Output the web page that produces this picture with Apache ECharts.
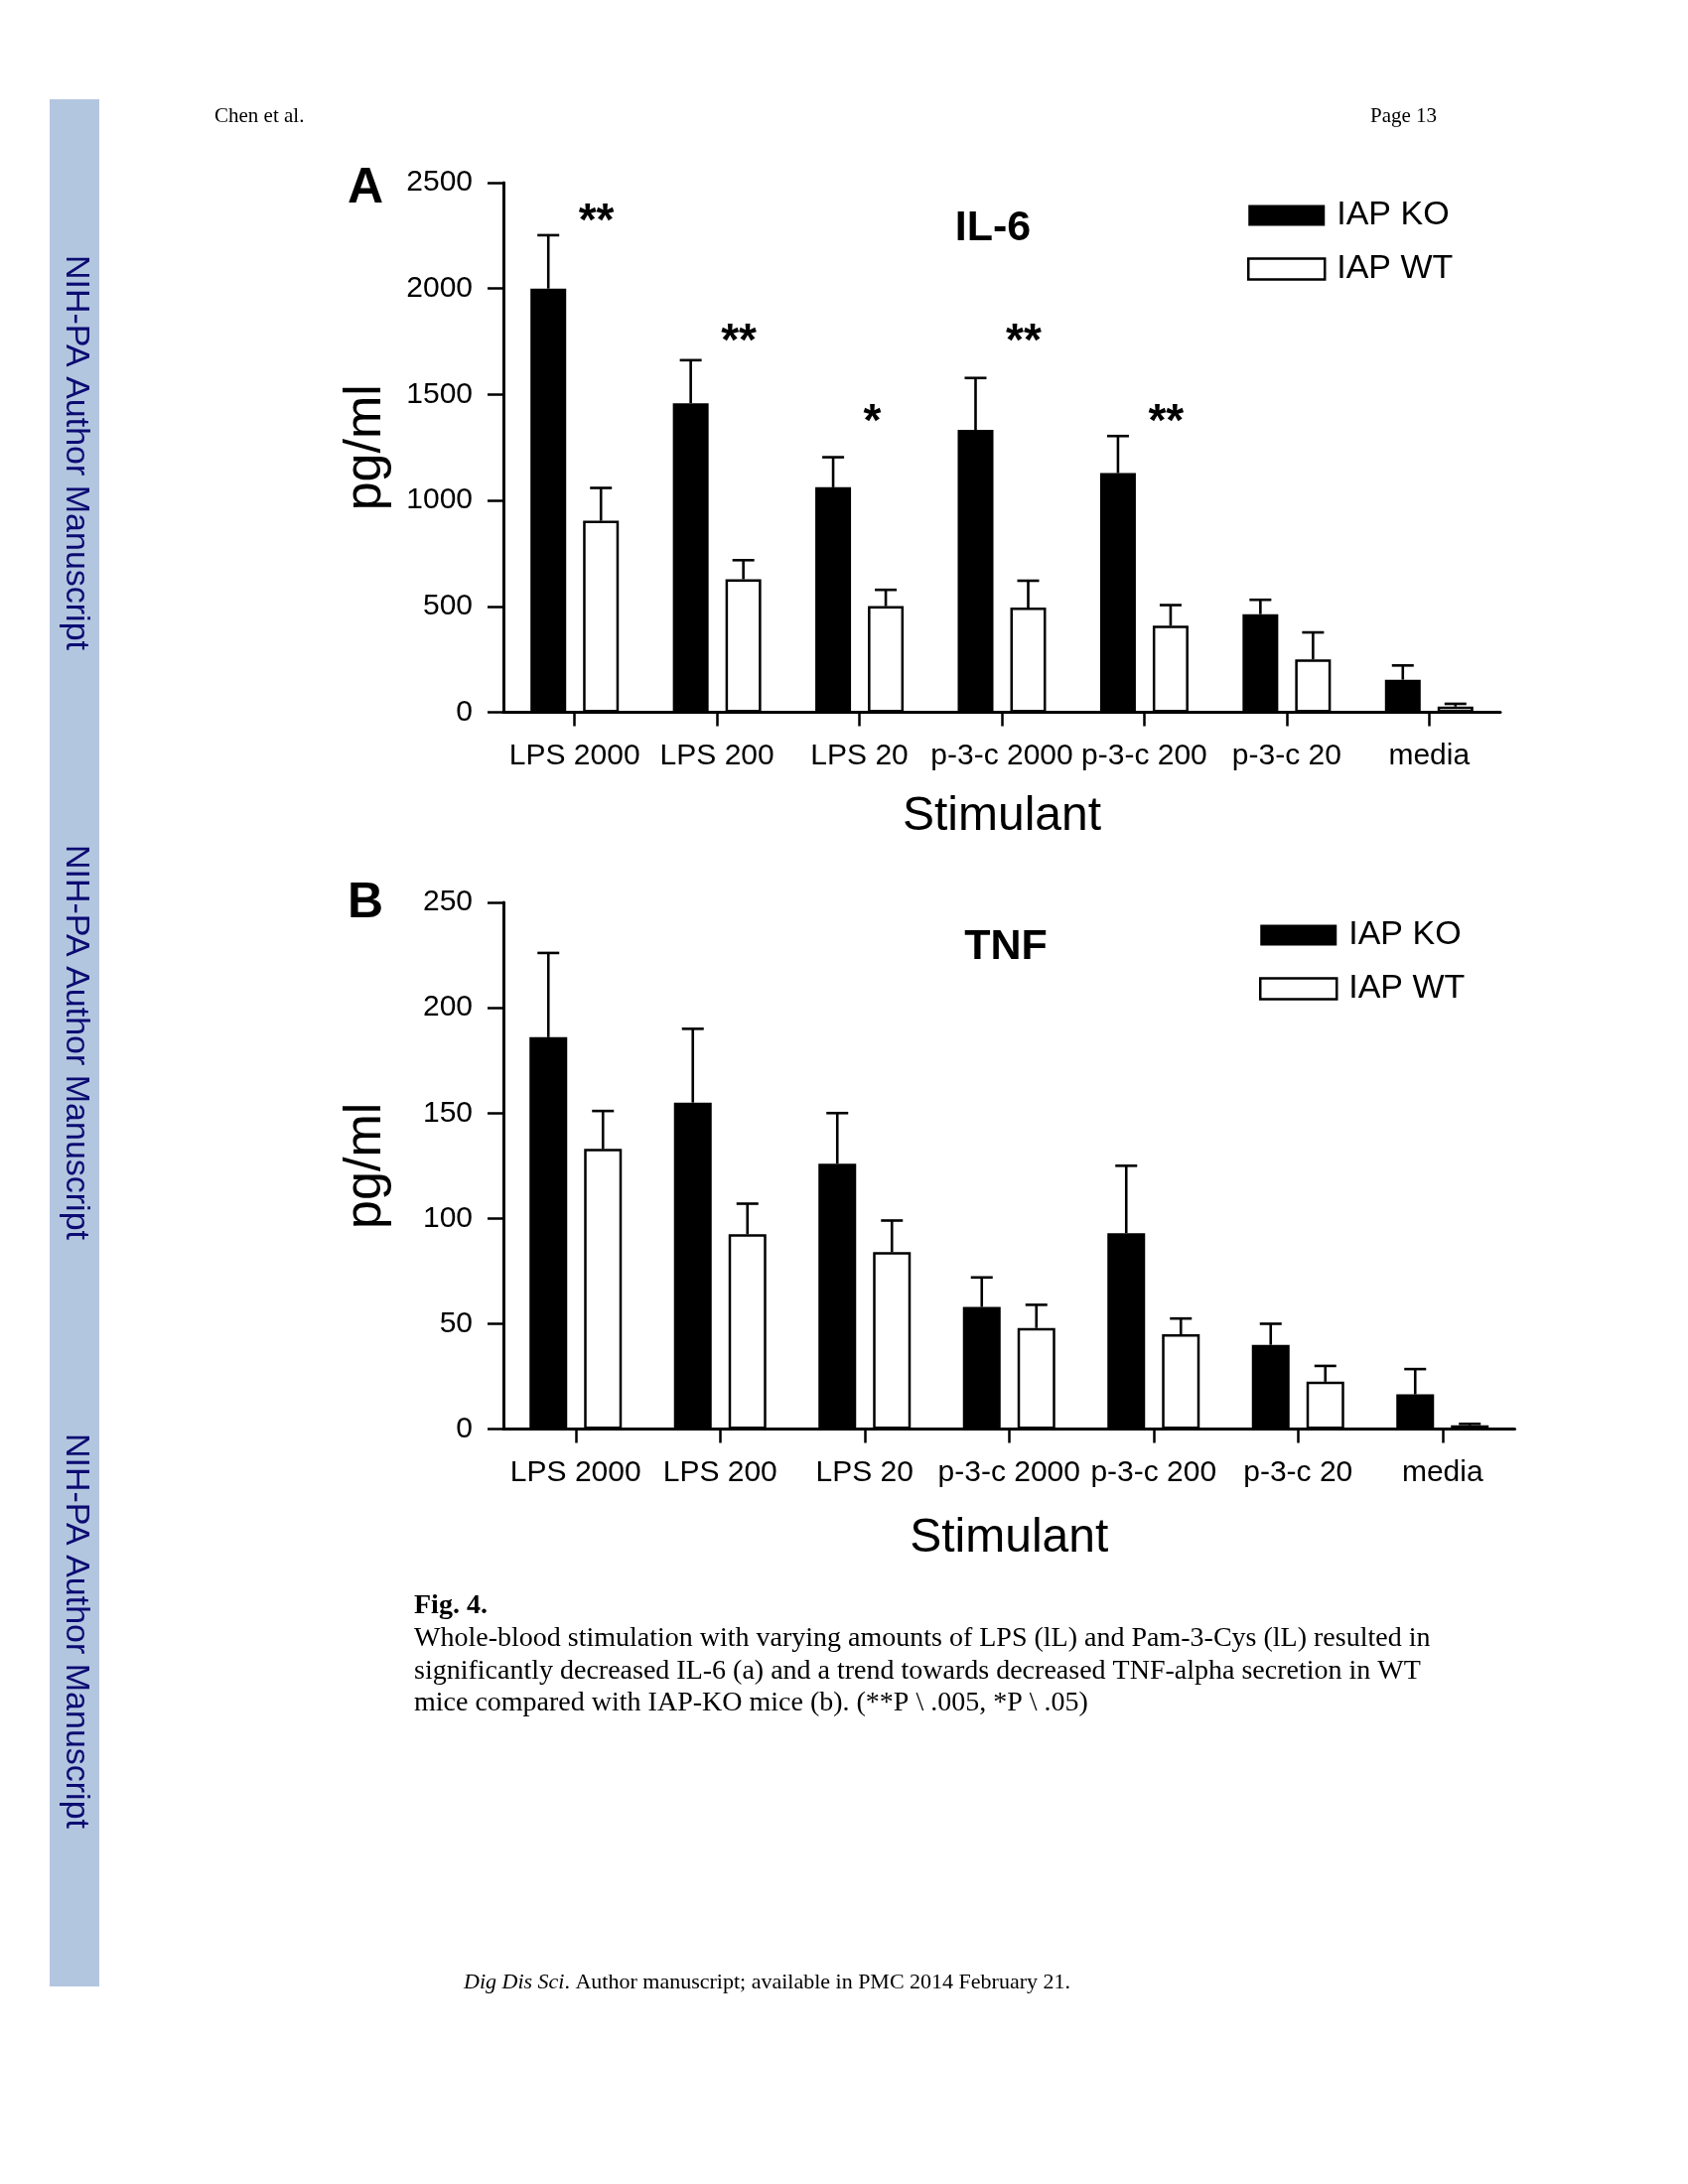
<!DOCTYPE html>
<html>
<head>
<meta charset="utf-8">
<script src="https://cdn.jsdelivr.net/npm/echarts@6/dist/echarts.min.js"></script>
<style>
html,body{margin:0;padding:0;background:#fff;}
#chart{width:1700px;height:2200px;}
</style>
</head>
<body>
<div id="chart"></div>
<script>
// ---------- DATA ----------
const categories = ['LPS 2000', 'LPS 200', 'LPS 20', 'p-3-c 2000', 'p-3-c 200', 'p-3-c 20', 'media'];
const seriesNames = ['IAP KO', 'IAP WT'];

// Panel A: IL-6 (pg/ml), mean and SEM
const il6KO    = [2000, 1459, 1062, 1333, 1129, 463, 154];
const il6KOerr = [252, 203, 142, 245, 175, 68, 67];
const il6WT    = [904, 628, 501, 494, 409, 250, 27];
const il6WTerr = [155, 90, 77, 127, 97, 127, 13];
const il6SigCats   = [0, 1, 2, 3, 4];
const il6SigLabels = ['**', '**', '*', '**', '**'];
const il6SigY      = [2360, 1790, 1410, 1790, 1410];
const il6Ticks = {min: 0, max: 2500, interval: 500};

// Panel B: TNF (pg/ml), mean and SEM
const tnfKO    = [186, 155, 126, 58, 93, 40, 16.5];
const tnfKOerr = [40, 35, 24, 14, 32, 10, 12];
const tnfWT    = [133, 92.5, 84, 48, 45, 22.5, 1.8];
const tnfWTerr = [18, 14.5, 15, 11, 7.5, 7.5, 0.7];
const tnfTicks = {min: 0, max: 250, interval: 50};

// ---------- STYLE ----------
const SANS = '"Liberation Sans", Arial, Helvetica, sans-serif';
const SERIF = '"Liberation Serif", "Times New Roman", serif';
const barWA = 36, gapA = 17;
const barWB = 38, gapB = 17;

function errSeries(name, means, errs, sign, barW, gap, axisIdx) {
  const off = sign * (barW + gap) / 2;
  return {
    type: 'custom',
    name: name + ' err',
    xAxisIndex: axisIdx, yAxisIndex: axisIdx,
    silent: true,
    z: 5,
    data: means.map((v, i) => [i, v, v + errs[i]]),
    encode: {x: 0, y: [1, 2]},
    renderItem: function (params, api) {
      const c = api.value(0);
      const p0 = api.coord([c, api.value(1)]);
      const p1 = api.coord([c, api.value(2)]);
      const x = p0[0] + off;
      const st = {stroke: '#000', lineWidth: 2.6};
      return {
        type: 'group',
        children: [
          {type: 'line', shape: {x1: x, y1: p0[1], x2: x, y2: p1[1]}, style: st},
          {type: 'line', shape: {x1: x - 11, y1: p1[1], x2: x + 11, y2: p1[1]}, style: st}
        ]
      };
    }
  };
}

function sigSeries(cats, labels, ys, axisIdx) {
  return {
    type: 'custom',
    xAxisIndex: axisIdx, yAxisIndex: axisIdx,
    silent: true,
    z: 6,
    data: cats.map((c, i) => [c, ys[i]]),
    encode: {x: 0, y: 1},
    renderItem: function (params, api) {
      const p = api.coord([api.value(0), api.value(1)]);
      const fs = 46;
      return {
        type: 'text',
        x: p[0] + 4,
        y: p[1] + fs * 0.22,
        style: {
          text: labels[params.dataIndex],
          fill: '#000',
          font: 'bold ' + fs + 'px ' + SANS,
          align: 'left',
          verticalAlign: 'middle'
        }
      };
    }
  };
}

function xAxisCfg(gridIdx, gap) {
  return {
    type: 'category',
    gridIndex: gridIdx,
    data: categories,
    axisLine: {show: true, lineStyle: {color: '#000', width: 3}},
    axisTick: {show: true, alignWithLabel: true, length: 14, lineStyle: {color: '#000', width: 2.5}},
    axisLabel: {interval: 0, color: '#000', fontSize: 30, fontFamily: SANS, margin: 29, hideOverlap: false},
    splitLine: {show: false},
    name: 'Stimulant',
    nameLocation: 'middle',
    nameGap: gap,
    nameTextStyle: {color: '#000', fontSize: 48, fontFamily: SANS}
  };
}

function yAxisCfg(gridIdx, t) {
  return {
    type: 'value',
    gridIndex: gridIdx,
    min: t.min, max: t.max, interval: t.interval,
    axisLine: {show: true, lineStyle: {color: '#000', width: 3}},
    axisTick: {show: true, length: 16, lineStyle: {color: '#000', width: 2.5}},
    axisLabel: {color: '#000', fontSize: 30, fontFamily: SANS, margin: 31, formatter: v => String(v)},
    splitLine: {show: false},
    name: 'pg/ml',
    nameLocation: 'middle',
    nameRotate: 90,
    nameGap: 112,
    nameTextStyle: {color: '#000', fontSize: 52, fontFamily: SANS}
  };
}

function legendCfg(left, top) {
  return {
    orient: 'vertical',
    left: left, top: top,
    padding: 0,
    itemWidth: 77, itemHeight: 21, itemGap: 20,
    icon: 'rect',
    textStyle: {color: '#000', fontSize: 34, fontFamily: SANS, padding: [0, 0, 0, 7]},
    selectedMode: false,
    data: [
      {name: 'IAP KO', itemStyle: {color: '#000', borderWidth: 0}},
      {name: 'IAP WT', itemStyle: {color: '#fff', borderColor: '#000', borderWidth: 2.5}}
    ]
  };
}

function txt(text, x, y, font, opts) {
  return Object.assign({
    type: 'text', x: x, y: y, silent: true,
    style: Object.assign({text: text, fill: '#000', font: font, align: 'left', verticalAlign: 'middle'}, (opts && opts.style) || {})
  }, (opts && opts.el) || {});
}

const sideTexts = [456, 1050, 1643].map(y => ({
  type: 'text', x: 76, y: y, rotation: -Math.PI / 2, silent: true,
  style: {text: 'NIH-PA Author Manuscript', fill: '#0c0c72', font: '34px ' + SANS, align: 'center', verticalAlign: 'middle'}
}));

const chart = echarts.init(document.getElementById('chart'), null, {renderer: 'canvas'});
chart.setOption({
  backgroundColor: '#fff',
  animation: false,
  title: [
    {text: 'IL-6', left: 1000, top: 209, textAlign: 'center', padding: 0,
     textStyle: {color: '#000', fontSize: 43, fontWeight: 'bold', fontFamily: SANS}},
    {text: 'TNF', left: 1013, top: 933, textAlign: 'center', padding: 0,
     textStyle: {color: '#000', fontSize: 43, fontWeight: 'bold', fontFamily: SANS}}
  ],
  legend: [legendCfg(1256, 200), legendCfg(1268, 925)],
  grid: [
    {left: 507, top: 184, width: 1004, height: 533.5, containLabel: false},
    {left: 507, top: 909, width: 1018.5, height: 530.6, containLabel: false}
  ],
  xAxis: [xAxisCfg(0, 81), xAxisCfg(1, 86)],
  yAxis: [yAxisCfg(0, il6Ticks), yAxisCfg(1, tnfTicks)],
  series: [
    {type: 'bar', name: 'IAP KO', xAxisIndex: 0, yAxisIndex: 0, data: il6KO,
     barWidth: barWA, barGap: (gapA / barWA * 100) + '%', itemStyle: {color: '#000'}},
    {type: 'bar', name: 'IAP WT', xAxisIndex: 0, yAxisIndex: 0, data: il6WT,
     barWidth: barWA, barGap: (gapA / barWA * 100) + '%', itemStyle: {color: '#fff', borderColor: '#000', borderWidth: 2.5}},
    errSeries('IAP KO', il6KO, il6KOerr, -1, barWA, gapA, 0),
    errSeries('IAP WT', il6WT, il6WTerr, 1, barWA, gapA, 0),
    sigSeries(il6SigCats, il6SigLabels, il6SigY, 0),

    {type: 'bar', name: 'IAP KO', xAxisIndex: 1, yAxisIndex: 1, data: tnfKO,
     barWidth: barWB, barGap: (gapB / barWB * 100) + '%', itemStyle: {color: '#000'}},
    {type: 'bar', name: 'IAP WT', xAxisIndex: 1, yAxisIndex: 1, data: tnfWT,
     barWidth: barWB, barGap: (gapB / barWB * 100) + '%', itemStyle: {color: '#fff', borderColor: '#000', borderWidth: 2.5}},
    errSeries('IAP KO', tnfKO, tnfKOerr, -1, barWB, gapB, 1),
    errSeries('IAP WT', tnfWT, tnfWTerr, 1, barWB, gapB, 1)
  ],
  graphic: [
    {type: 'rect', silent: true, shape: {x: 50, y: 100, width: 50, height: 1901}, style: {fill: '#b3c6e0'}, z: -1},
    ...sideTexts,
    txt('Chen et al.', 216, 117, '21px ' + SERIF),
    txt('Page 13', 1380, 117, '21px ' + SERIF),
    txt('A', 368, 190, 'bold 50px ' + SANS, {style: {align: 'center'}}),
    txt('B', 368, 910, 'bold 50px ' + SANS, {style: {align: 'center'}}),
    txt('Fig. 4.', 417, 1618, 'bold 28px ' + SERIF),
    txt('Whole-blood stimulation with varying amounts of LPS (lL) and Pam-3-Cys (lL) resulted in', 417, 1651, '28px ' + SERIF),
    txt('significantly decreased IL-6 (a) and a trend towards decreased TNF-alpha secretion in WT', 417, 1684, '28px ' + SERIF),
    txt('mice compared with IAP-KO mice (b). (**P \\ .005, *P \\ .05)', 417, 1716, '28px ' + SERIF),
    {type: 'text', x: 467, y: 1997, silent: true,
     style: {text: '{i|Dig Dis Sci}. Author manuscript; available in PMC 2014 February 21.',
             fill: '#000', font: '22px ' + SERIF, align: 'left', verticalAlign: 'middle',
             rich: {i: {fontStyle: 'italic', fontSize: 22, fontFamily: SERIF}}}}
  ]
});
</script>
</body>
</html>
